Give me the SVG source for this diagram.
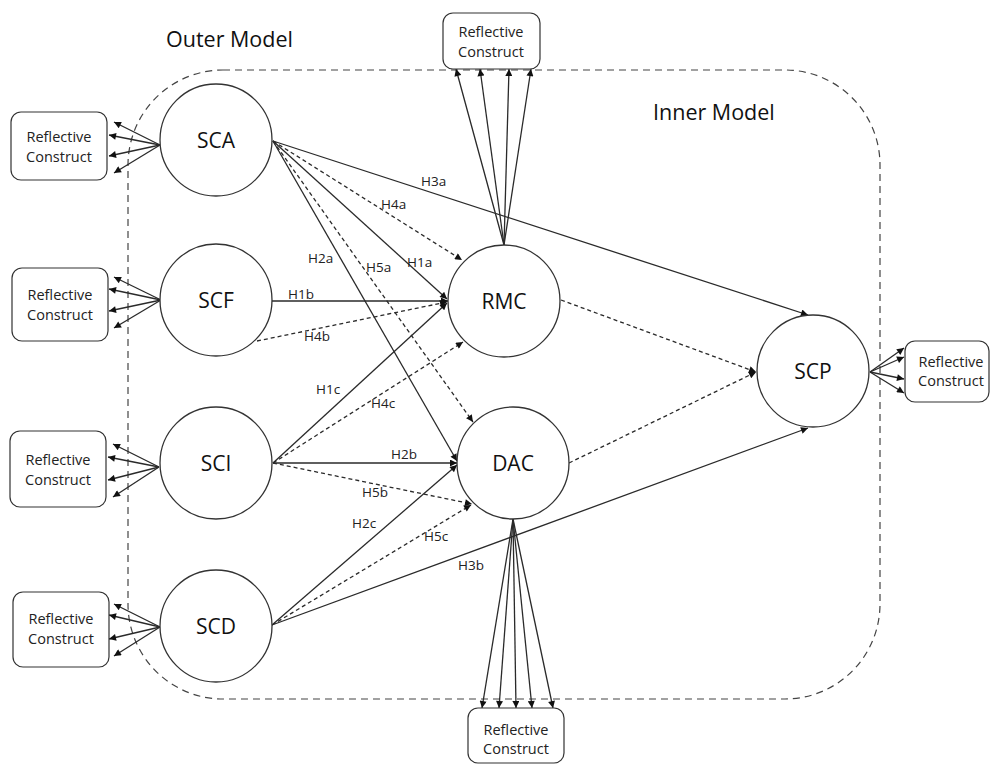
<svg xmlns="http://www.w3.org/2000/svg" width="990" height="766" viewBox="0 0 990 766">
<style>
.bnd{fill:none;stroke:#444;stroke-width:1.2;stroke-dasharray:7 5}
.node circle{fill:#fff;stroke:#333;stroke-width:1.3}
.node text{font-family:"Open Sans","Liberation Sans",sans-serif;font-size:21px;fill:#111;text-anchor:middle}
.box rect{fill:#fff;stroke:#333;stroke-width:1.2}
.box text{font-family:"Open Sans","Liberation Sans",sans-serif;font-size:14.5px;fill:#222;text-anchor:middle}
.title{font-family:"Open Sans","Liberation Sans",sans-serif;font-size:21.5px;fill:#111}
.lbl{font-family:"Open Sans","Liberation Sans",sans-serif;font-size:13.5px;fill:#222}
#connectors line{stroke:#2a2a2a;stroke-width:1.3;fill:none}
#connectors line.arr{marker-end:url(#ah)}
#connectors line.d{stroke-dasharray:4 3}
</style>
<defs>
<marker id="ah" viewBox="0 0 10 10" refX="10" refY="5" markerWidth="9" markerHeight="7" markerUnits="userSpaceOnUse" orient="auto">
<path d="M0,0 L10,5 L0,10 z" fill="#111"/>
</marker>
</defs>
<rect width="990" height="766" fill="#fff"/>
<rect class="bnd" x="128" y="70" width="752" height="629" rx="95" ry="95"/>
<text class="title" x="166" y="47">Outer Model</text>
<text class="title" x="653" y="120">Inner Model</text>

<g id="connectors">
<line class="arr" x1="160" y1="145" x2="114" y2="122"/>
<line class="arr" x1="160" y1="145" x2="109" y2="135"/>
<line class="arr" x1="160" y1="145" x2="109" y2="156"/>
<line class="arr" x1="160" y1="145" x2="114" y2="173"/>

<line class="arr" x1="161" y1="300" x2="114" y2="277"/>
<line class="arr" x1="161" y1="300" x2="109" y2="289"/>
<line class="arr" x1="161" y1="300" x2="109" y2="311"/>
<line class="arr" x1="161" y1="300" x2="114" y2="328"/>

<line class="arr" x1="159" y1="467" x2="113" y2="444"/>
<line class="arr" x1="159" y1="467" x2="108" y2="457"/>
<line class="arr" x1="159" y1="467" x2="108" y2="480"/>
<line class="arr" x1="159" y1="467" x2="113" y2="497"/>

<line class="arr" x1="160" y1="627" x2="114" y2="604"/>
<line class="arr" x1="160" y1="627" x2="109" y2="615"/>
<line class="arr" x1="160" y1="627" x2="109" y2="639"/>
<line class="arr" x1="160" y1="627" x2="114" y2="656"/>

<line class="arr" x1="870" y1="372" x2="904" y2="348"/>
<line class="arr" x1="870" y1="372" x2="904" y2="357"/>
<line class="arr" x1="870" y1="372" x2="904" y2="379"/>
<line class="arr" x1="870" y1="372" x2="904" y2="393"/>

<line class="arr" x1="504" y1="245" x2="456" y2="69"/>
<line class="arr" x1="504" y1="245" x2="480" y2="69"/>
<line class="arr" x1="504" y1="245" x2="509" y2="69"/>
<line class="arr" x1="504" y1="245" x2="531" y2="69"/>

<line class="arr" x1="513" y1="519" x2="482" y2="708"/>
<line class="arr" x1="513" y1="519" x2="499" y2="708"/>
<line class="arr" x1="513" y1="519" x2="516" y2="708"/>
<line class="arr" x1="513" y1="519" x2="532" y2="708"/>
<line class="arr" x1="513" y1="519" x2="553" y2="708"/>

<line class="arr" x1="273" y1="141" x2="808" y2="315"/>
<line class="arr d" x1="273" y1="141" x2="462" y2="260"/>
<line class="arr" x1="273" y1="141" x2="447" y2="299"/>
<line class="arr d" x1="273" y1="141" x2="473" y2="422"/>
<line class="arr" x1="273" y1="141" x2="457" y2="461"/>

<line class="arr" x1="272" y1="301" x2="448" y2="301"/>
<line class="arr d" x1="257" y1="341" x2="447" y2="302"/>

<line class="arr" x1="273" y1="463" x2="447" y2="303"/>
<line class="arr d" x1="273" y1="463" x2="463" y2="342"/>
<line class="arr" x1="273" y1="463" x2="457" y2="463"/>
<line class="arr d" x1="273" y1="463" x2="472" y2="504"/>

<line class="arr" x1="272" y1="625" x2="457" y2="465"/>
<line class="arr d" x1="272" y1="625" x2="471" y2="505"/>
<line class="arr" x1="272" y1="625" x2="808" y2="428"/>

<line class="arr d" x1="561" y1="300" x2="756" y2="372"/>
<line class="arr d" x1="569" y1="463" x2="756" y2="372"/>
</g>

<g id="labels">
<text class="lbl" x="421" y="186">H3a</text>
<text class="lbl" x="381" y="209">H4a</text>
<text class="lbl" x="308" y="263">H2a</text>
<text class="lbl" x="366" y="272">H5a</text>
<text class="lbl" x="407" y="267">H1a</text>
<text class="lbl" x="288" y="299">H1b</text>
<text class="lbl" x="304" y="341">H4b</text>
<text class="lbl" x="316" y="394">H1c</text>
<text class="lbl" x="371" y="408">H4c</text>
<text class="lbl" x="391" y="459">H2b</text>
<text class="lbl" x="362" y="497">H5b</text>
<text class="lbl" x="352" y="528">H2c</text>
<text class="lbl" x="424" y="541">H5c</text>
<text class="lbl" x="458" y="570">H3b</text>
</g>

<g id="SCA" class="node"><circle cx="216" cy="140" r="56"/><text x="216" y="148">SCA</text></g>
<g id="SCF" class="node"><circle cx="216" cy="300" r="56"/><text x="216" y="308">SCF</text></g>
<g id="SCI" class="node"><circle cx="216" cy="463" r="56"/><text x="216" y="471">SCI</text></g>
<g id="SCD" class="node"><circle cx="216" cy="626" r="56"/><text x="216" y="634">SCD</text></g>
<g id="RMC" class="node"><circle cx="504" cy="301" r="56"/><text x="504" y="309">RMC</text></g>
<g id="DAC" class="node"><circle cx="513" cy="463" r="56"/><text x="513" y="471">DAC</text></g>
<g id="SCP" class="node"><circle cx="813" cy="371" r="56"/><text x="813" y="379">SCP</text></g>

<g id="RC1" class="box"><rect x="11" y="112" width="96" height="68" rx="10"/><text x="59" y="142">Reflective</text><text x="59" y="162">Construct</text></g>
<g id="RC2" class="box"><rect x="12" y="268" width="96" height="73" rx="10"/><text x="60" y="300">Reflective</text><text x="60" y="320">Construct</text></g>
<g id="RC3" class="box"><rect x="10" y="431" width="96" height="76" rx="10"/><text x="58" y="465">Reflective</text><text x="58" y="485">Construct</text></g>
<g id="RC4" class="box"><rect x="13" y="592" width="96" height="75" rx="10"/><text x="61" y="624">Reflective</text><text x="61" y="644">Construct</text></g>
<g id="RC5" class="box"><rect x="443" y="13" width="97" height="56" rx="10"/><text x="491" y="37">Reflective</text><text x="491" y="57">Construct</text></g>
<g id="RC6" class="box"><rect x="468" y="708" width="96" height="55" rx="10"/><text x="516" y="735">Reflective</text><text x="516" y="754">Construct</text></g>
<g id="RC7" class="box"><rect x="905" y="341" width="84" height="61" rx="10"/><text x="951" y="367">Reflective</text><text x="951" y="386">Construct</text></g>
</svg>
